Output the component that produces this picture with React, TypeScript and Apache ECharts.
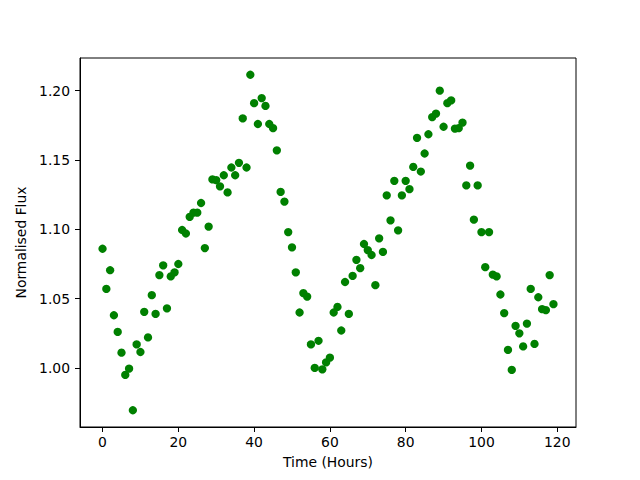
import React, { useEffect, useRef } from "react";
import * as echarts from "echarts";

const hours: number[] = Array.from({ length: 120 }, (_, i) => i);

const flux: number[] = [
  1.086, 1.057, 1.0705, 1.038, 1.026, 1.011, 0.995, 0.9995, 0.9695, 1.017,
  1.0115, 1.0405, 1.022, 1.0525, 1.039, 1.067, 1.074, 1.043, 1.066, 1.069,
  1.075, 1.0995, 1.097, 1.109, 1.112, 1.112, 1.119, 1.0865, 1.102, 1.136,
  1.1355, 1.131, 1.139, 1.1266, 1.1446, 1.139, 1.148, 1.18, 1.1446, 1.2115,
  1.191, 1.176, 1.1947, 1.189, 1.176, 1.173, 1.157, 1.127, 1.12, 1.098,
  1.087, 1.069, 1.04, 1.054, 1.0515, 1.017, 1.0, 1.0196, 0.999, 1.004,
  1.0074, 1.04, 1.044, 1.027, 1.062, 1.039, 1.0664, 1.078, 1.072, 1.0894,
  1.085, 1.0815, 1.0597, 1.0935, 1.0837, 1.1245, 1.1065, 1.135, 1.0993, 1.1245,
  1.135, 1.129, 1.145, 1.166, 1.1417, 1.1547, 1.1686, 1.181, 1.1835, 1.2,
  1.174, 1.191, 1.193, 1.1727, 1.173, 1.177, 1.1317, 1.146, 1.107, 1.1317,
  1.098, 1.0727, 1.098, 1.0673, 1.066, 1.053, 1.0396, 1.013, 0.9986, 1.0304,
  1.025, 1.0155, 1.032, 1.057, 1.0173, 1.051, 1.0424, 1.0417, 1.067, 1.046,
];

const xTicks: number[] = [0, 20, 40, 60, 80, 100, 120];
const yTicks: number[] = [1.0, 1.05, 1.1, 1.15, 1.2];

const FONT = "DejaVu Sans";

export default function App() {
  const ref = useRef<HTMLDivElement>(null);

  useEffect(() => {
    if (!ref.current) return;
    const chart = echarts.init(ref.current, undefined, { renderer: "svg" });

    const xMinD = Math.min(...hours);
    const xMaxD = Math.max(...hours);
    const yMinD = Math.min(...flux);
    const yMaxD = Math.max(...flux);
    const xPad = (xMaxD - xMinD) * 0.05;
    const yPad = (yMaxD - yMinD) * 0.05;

    const axisCommon = {
      axisLine: { show: true, onZero: false, lineStyle: { color: "#000", width: 1 } },
      axisTick: { show: true, inside: false, length: 5, lineStyle: { color: "#000", width: 1 } },
      splitLine: { show: false },
      nameTextStyle: { fontFamily: FONT, fontSize: 13.9, color: "#000" },
    };

    chart.setOption({
      animation: false,
      backgroundColor: "#fff",
      grid: {
        left: 80,
        right: 64,
        top: 58,
        bottom: 53,
        show: true,
        borderColor: "#000",
        borderWidth: 1,
        containLabel: false,
      },
      xAxis: {
        type: "value",
        min: xMinD - xPad,
        max: xMaxD + xPad,
        name: "Time (Hours)",
        nameLocation: "middle",
        nameGap: 28,
        ...axisCommon,
        axisTick: { ...axisCommon.axisTick, customValues: xTicks },
        axisLabel: {
          customValues: xTicks,
          fontFamily: FONT,
          fontSize: 13.9,
          color: "#000",
          margin: 8,
          formatter: (v: number) => String(Math.round(v)),
        },
      },
      yAxis: {
        type: "value",
        min: yMinD - yPad,
        max: yMaxD + yPad,
        name: "Normalised Flux",
        nameLocation: "middle",
        nameGap: 45,
        ...axisCommon,
        axisTick: { ...axisCommon.axisTick, customValues: yTicks },
        axisLabel: {
          customValues: yTicks,
          fontFamily: FONT,
          fontSize: 13.9,
          color: "#000",
          margin: 10,
          formatter: (v: number) => v.toFixed(2),
        },
      },
      series: [
        {
          type: "scatter",
          data: hours.map((h, i) => [h, flux[i]]),
          symbol: "circle",
          symbolSize: 8.3,
          itemStyle: { color: "#008000", opacity: 1 },
          emphasis: { disabled: true },
        },
      ],
    });

    return () => chart.dispose();
  }, []);

  return <div ref={ref} style={{ width: 640, height: 480, margin: -8 }} />;
}
